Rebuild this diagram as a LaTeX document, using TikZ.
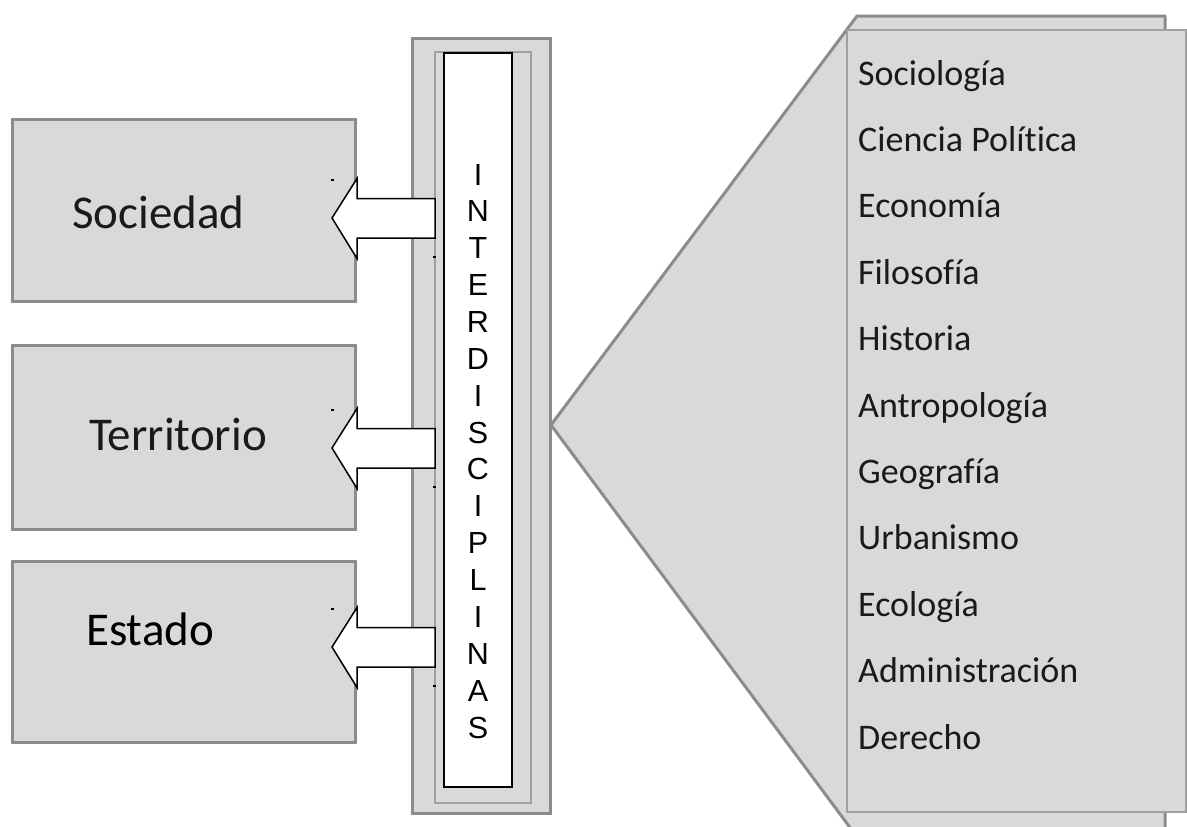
\documentclass[tikz,border=0pt]{standalone}
\usepackage{fontspec}
\setmainfont{Carlito}[Ligatures=NoCommon]
\newfontfamily\arialf{Liberation Sans}
\definecolor{boxfill}{HTML}{D9D9D9}
\definecolor{boxline}{HTML}{8C8C8C}
\definecolor{thinline}{HTML}{A0A0A0}
\definecolor{txt}{HTML}{1A1A1A}
\begin{document}
\begin{tikzpicture}[x=1pt,y=-1pt,
  grayshape/.style={fill=boxfill,draw=boxline,line width=3pt},
  blockarrow/.style={fill=white,draw=black,line width=1.5pt,line join=miter},
  biglabel/.style={anchor=base west,inner sep=0pt,text=txt,font=\fontsize{47}{56}\selectfont},
  listlabel/.style={anchor=base west,inner sep=0pt,text=txt,font=\fontsize{36}{43}\selectfont},
  letter/.style={anchor=base,inner sep=0pt,text=black,font=\arialf\fontsize{30.5}{36}\selectfont},
  speck/.style={fill=black}]
\useasboundingbox (0,0) rectangle (1187,827);
\fill[white] (0,0) rectangle (1187,827);
% ---- callout (back page) ----
\begin{scope}
\clip (0,0) rectangle (1187,827);
\coordinate (tip) at (551,425);
\draw[grayshape,line join=round] (tip) -- (857,16) -- (1165,16) -- (1165,845) -- (863,845) -- cycle;
\draw[fill=boxfill,draw=thinline,line width=2pt] (847,30) rectangle (1186,812);
\end{scope}
% ---- left boxes ----
\draw[grayshape] (12,119) rectangle (355,301);
\draw[grayshape] (12,345) rectangle (355,529);
\draw[grayshape] (12,561) rectangle (355,742);
\node[biglabel] (soc) at (72,228) {Sociedad};
\node[biglabel] (ter) at (89,450) {Territorio};
\node[biglabel,text=black] (est) at (86,645) {Estado};
% ---- pillar ----
\draw[grayshape] (412,38) rectangle (550,813);
\draw[draw=thinline,line width=2pt] (435,52) rectangle (531,803);
\draw[fill=white,draw=black,line width=1.5pt] (444,53) rectangle (512,787);
\foreach \L [count=\k from 0] in {I,N,T,E,R,D,I,S,C,I,P,L,I,N,A,S}
  \node[letter] (l\k) at (478,{185+36.87*\k}) {\L};
% ---- block arrows ----
\foreach \yc/\nm in {218/a1,448/a2,647/a3}{
  \draw[blockarrow] (435,\yc-19.5) -- (357,\yc-19.5) -- (357,\yc-39.5) -- (332,\yc) coordinate (\nm)
     -- (357,\yc+40.5) -- (357,\yc+20) -- (435,\yc+20) -- cycle;
  \fill[speck] (331,\yc-39) rectangle (333.5,\yc-37.5);
  \fill[speck] (433,\yc+38) rectangle (435.5,\yc+39.5);
}
% ---- list ----
\foreach \t [count=\k from 0] in {Sociología,Ciencia Política,Economía,Filosofía,Historia,Antropología,Geografía,Urbanismo,Ecología,Administración,Derecho}
  \node[listlabel] (d\k) at (858,{85+66.4*\k}) {\t};
\end{tikzpicture}
\end{document}
